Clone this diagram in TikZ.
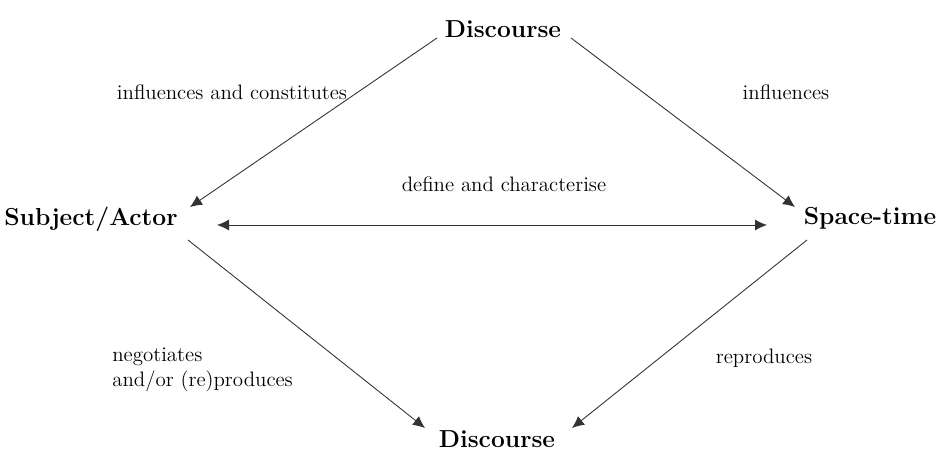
\documentclass[tikz,border=0pt]{standalone}
\usepackage{tikz}
\usetikzlibrary{arrows.meta,positioning,calc}
\definecolor{lineblack}{RGB}{50,50,50}
\tikzset{
    concept/.style={inner sep=0pt, anchor=base, font=\fontsize{14}{17}\selectfont\bfseries},
    rel/.style={lineblack, line width=0.5pt, -{Latex[length=2.4mm,width=2.2mm]}},
    birel/.style={lineblack, line width=0.5pt, {Latex[length=2.4mm,width=2.2mm]}-{Latex[length=2.4mm,width=2.2mm]}},
    rellabel/.style={font=\fontsize{11.9}{14.5}\selectfont, inner sep=0pt},
}

\begin{document}
\begin{tikzpicture}[x=0.02cm, y=-0.02cm]
    \useasboundingbox (0,0) rectangle (939,453);

    \node[concept] (dtop) at (503,37) {Discourse};
    \node[concept] (subj) at (91,225) {Subject/Actor};
    \node[concept] (spti) at (870,224) {Space-time};
    \node[concept] (dbot) at (497,447) {Discourse};

    % Upper relations
    \draw[rel] ($(dtop.base)+(-66,1)$) -- ($(subj.base)+(99,-18)$);
    \draw[rel] ($(dtop.base)+(68,1)$) -- ($(spti.base)+(-75,-17)$);

    % Horizontal relation
    \draw[birel] ($(subj.base)+(126,0)$) -- ($(spti.base)+(-103,1)$);

    % Lower relations
    \draw[rel] ($(subj.base)+(97,15)$) -- ($(dbot.base)+(-72,-19)$);
    \draw[rel] ($(spti.base)+(-63,16)$) -- ($(dbot.base)+(75,-19)$);

    % Labels
    \node[rellabel] (lcons) at (232,92) {influences and constitutes};
    \node[rellabel] (linfl) at (786,92) {influences};
    \node[rellabel] (ldef) at (504,184) {define and characterise};
    \node[rellabel, align=left, anchor=west] (lnego) at (112,370) {negotiates\\and/or (re)produces};
    \node[rellabel] (lrepr) at (764,358) {reproduces};
\end{tikzpicture}
\end{document}
